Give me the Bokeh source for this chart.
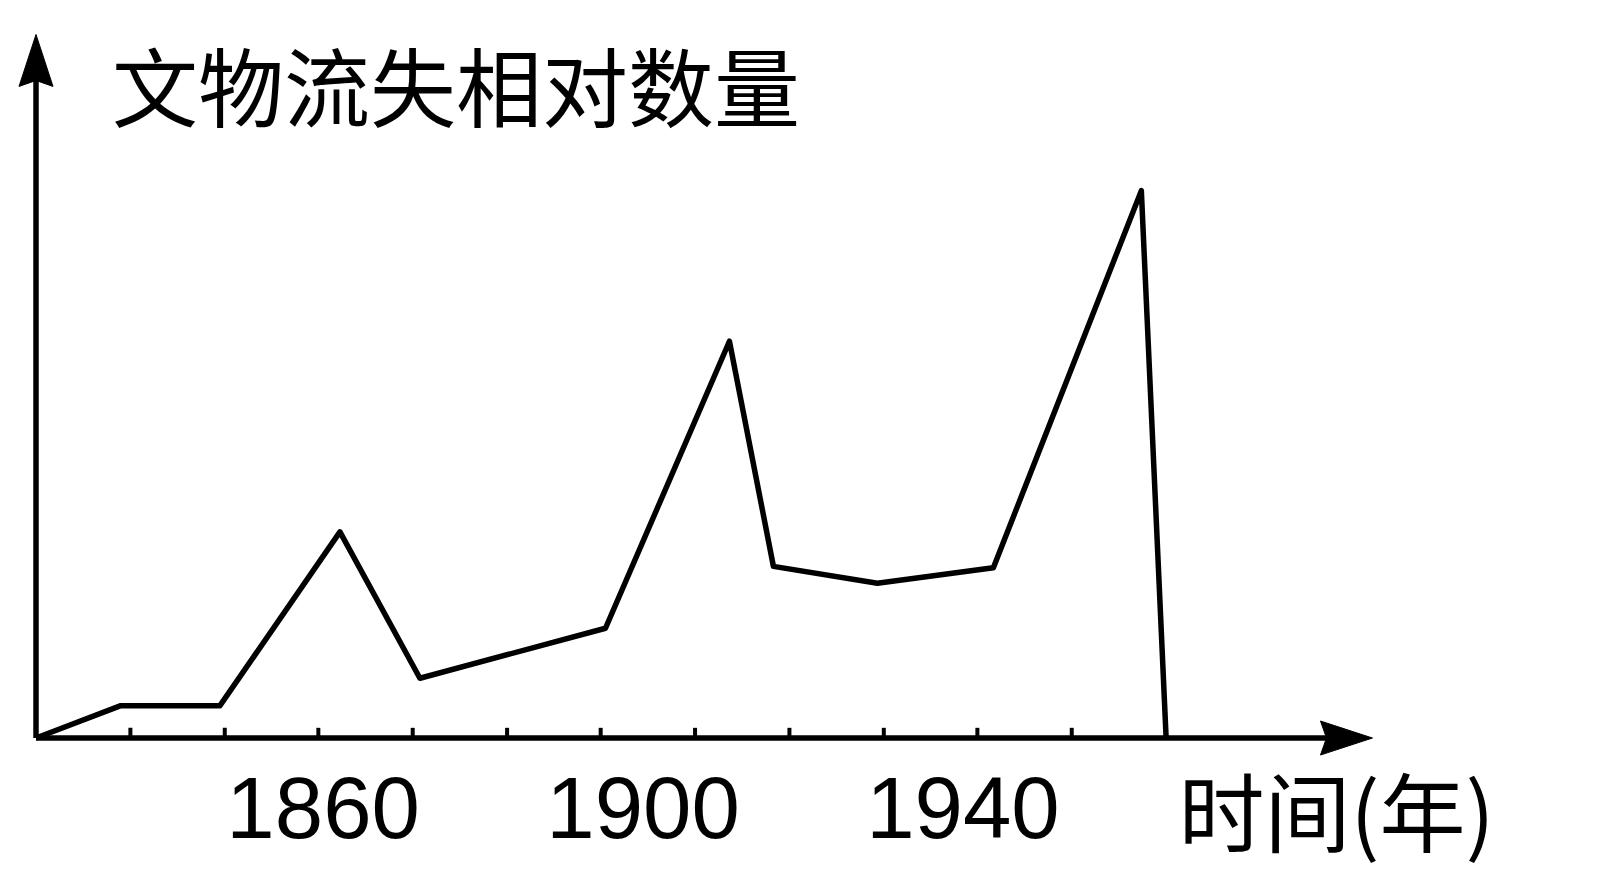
from bokeh.plotting import figure
from bokeh.models import Arrow, Label, Range1d
from bokeh.embed import file_html
from bokeh.resources import INLINE

# ---- data ----
years = [1824.1, 1834.7, 1847.1, 1862.1, 1872.1, 1895.3, 1910.8, 1916.3, 1929.3, 1943.8, 1962.3, 1965.4]
loss = [0.0, 4.6, 4.6, 29.3, 8.5, 15.6, 56.4, 24.4, 22.0, 24.2, 77.8, 0.0]
tick_years = [1835.9, 1847.7, 1859.4, 1871.2, 1883.0, 1894.7, 1906.5, 1918.3, 1930.1, 1941.8, 1953.6]
label_years = [1860, 1900, 1940]
y_title = "文物流失相对数量"
x_title = "时间(年)"

# axis extents (origin and arrow tips)
X0, X1 = 1824.1, 1991.2
Y0, Y1 = 0, 100

XR = (1819.66, 2019.71)
YR = (-20.82, 104.83)
W, H = 1600, 884
sx = W / (XR[1] - XR[0])   # px per year
sy = H / (YR[1] - YR[0])   # px per unit

p = figure(width=W, height=H, output_backend="svg", toolbar_location=None,
           x_range=Range1d(*XR), y_range=Range1d(*YR),
           x_axis_type=None, y_axis_type=None,
           min_border=0, min_border_left=0, min_border_right=0, min_border_top=0, min_border_bottom=0)
p.outline_line_color = None
p.xgrid.visible = False
p.ygrid.visible = False
p.background_fill_color = "white"
p.border_fill_color = "white"

# axis lines
p.add_layout(Arrow(end=None, x_start=X0, y_start=Y0, x_end=X1 - 30 / sx, y_end=Y0,
                   line_width=5.5, line_color="black"))
p.add_layout(Arrow(end=None, x_start=X0, y_start=Y0, x_end=X0, y_end=Y1 - 30 / sy,
                   line_width=5.5, line_color="black"))

# arrow heads (slender, slightly notched), sized in pixels
L, HW, N = 52, 17, 6
head_xs = [
    [X1, X1 - L / sx, X1 - (L - N) / sx, X1 - L / sx],
    [X0, X0 + HW / sx, X0, X0 - HW / sx],
]
head_ys = [
    [Y0, Y0 + HW / sy, Y0, Y0 - HW / sy],
    [Y1, Y1 - L / sy, Y1 - (L - N) / sy, Y1 - L / sy],
]
p.patches(head_xs, head_ys, fill_color="black", line_color="black", line_width=1)

# small upward tick marks on the time axis
p.segment(x0=tick_years, y0=[0] * len(tick_years), x1=tick_years, y1=[1.45] * len(tick_years),
          line_width=4, line_color="black")

# the curve
p.line(years, loss, line_width=5.5, line_color="black", line_join="round")

for yr in label_years:
    p.add_layout(Label(x=yr, y=-9.9, text=str(yr), text_align="center", text_baseline="middle",
                       text_font="Liberation Sans", text_font_size="87px", text_color="black"))

p.add_layout(Label(x=1876.6, y=93.0, text=y_title, text_align="center", text_baseline="middle",
                   text_font="Noto Sans CJK SC", text_font_size="86px", text_color="black"))
p.add_layout(Label(x=1986.7, y=-10.0, text=x_title, text_align="center", text_baseline="middle",
                   text_font="Noto Sans CJK SC", text_font_size="86px", text_color="black"))

open("out.html", "w").write(file_html(p, INLINE))
